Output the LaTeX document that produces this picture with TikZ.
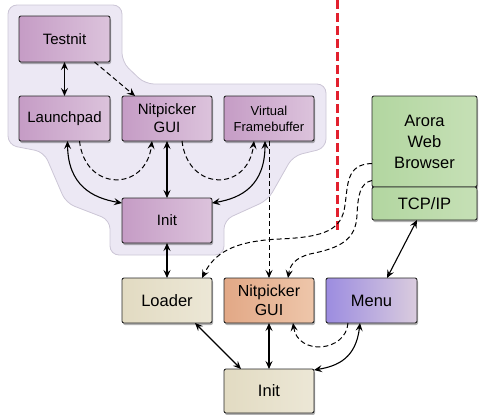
\documentclass[tikz,border=0pt]{standalone}
\usepackage{fontspec}
\setmainfont{Liberation Sans}
\usetikzlibrary{arrows.meta,shadows}
\definecolor{purA}{HTML}{C59CC5}
\definecolor{purB}{HTML}{DCC3DC}
\definecolor{begA}{HTML}{E2DBC2}
\definecolor{begB}{HTML}{ECE7D6}
\definecolor{salA}{HTML}{E2A886}
\definecolor{salB}{HTML}{EEC6AA}
\definecolor{menA}{HTML}{9C8CE0}
\definecolor{menB}{HTML}{DACCDE}
\definecolor{grnA}{HTML}{B2D6A0}
\definecolor{grnB}{HTML}{C6E0B6}
\definecolor{bgfill}{HTML}{ECE8F4}
\definecolor{bgdraw}{HTML}{CCC6D6}
\definecolor{redline}{HTML}{E2202E}
\tikzset{
  box/.style={draw=black!85, line width=0.9pt, rounded corners=2pt,
    minimum width=90pt, minimum height=45pt, inner sep=0pt, outer sep=0pt,
    align=center,
    drop shadow={shadow xshift=1pt, shadow yshift=-2pt, opacity=0.3, fill=black}},
  purbox/.style={box, left color=purA, right color=purB, font=\fontsize{15}{18}\selectfont},
  begbox/.style={box, left color=begA, right color=begB, font=\fontsize{16.5}{19}\selectfont},
  salbox/.style={box, left color=salA, right color=salB, font=\fontsize{16}{19}\selectfont},
  menbox/.style={box, left color=menA, right color=menB, font=\fontsize{16.5}{19}\selectfont},
  grnbox/.style={box, left color=grnA, right color=grnB, minimum width=105pt},
  conn/.style={line width=1.1pt, >={Stealth[length=8pt,width=7pt,inset=3pt]}},
  dconn/.style={conn, line width=1pt, dash pattern=on 5pt off 3pt},
}
\begin{document}
\begin{tikzpicture}[x=1pt,y=-1pt]
\useasboundingbox (0,0) rectangle (480,415);
% background region
\draw[fill=bgfill, draw=bgdraw, line width=0.8pt, rounded corners=9pt]
  (8,5) -- (122,5) -- (122,62) -- (145,84) -- (326,84) -- (326,148)
  -- (293,156) -- (268,200) -- (224,220) -- (224,255) -- (110,255)
  -- (110,220) -- (66,203) -- (44,152) -- (8,145) -- cycle;
% red separator
\draw[redline, line width=3pt, dash pattern=on 9pt off 4pt] (337,0) -- (337,232);

% nodes
\node[purbox, minimum width=91pt, minimum height=46pt] (testnit) at (64.5,39) {Testnit};
\node[purbox, minimum width=91pt] (launch) at (64.5,118.5) {Launchpad};
\node[purbox] (nitT) at (167,118.5) {Nitpicker\\GUI};
\node[purbox, font=\fontsize{13}{16}\selectfont] (vfb) at (269,118.5) {Virtual\\Framebuffer};
\node[purbox] (initT) at (167,220.5) {Init};
\node[begbox] (loader) at (167,300.5) {Loader};
\node[salbox] (nitB) at (269,300.5) {Nitpicker\\GUI};
\node[menbox, minimum width=91pt] (menu) at (371.5,300.5) {Menu};
\node[begbox, minimum height=44pt] (initB) at (269,391) {Init};
\node[grnbox, minimum height=91pt, font=\fontsize{16.5}{21}\selectfont] (arora) at (424.5,141.5) {Arora\\Web\\Browser};
\node[grnbox, minimum height=33pt, font=\fontsize{16.5}{19}\selectfont] (tcp) at (424.5,203.5) {TCP/IP};

% connectors (top group)
\draw[conn,<->] (testnit.south) -- (launch.north);
\draw[dconn,->] ([xshift=30pt]testnit.south) -- ([xshift=-32pt]nitT.north);
\draw[conn,<->] ([xshift=3pt]launch.south) .. controls (68,185) and (92,198) .. ([yshift=-5pt]initT.north west);
\draw[dconn,->] ([xshift=15pt]launch.south) .. controls (85,192) and (146,192) .. ([xshift=-15pt]nitT.south);
\draw[conn,<->] (nitT.south) -- (initT.north);
\draw[dconn,->] ([xshift=15pt]nitT.south) .. controls (188,192) and (248,192) .. ([xshift=-15pt]vfb.south);
\draw[conn,<->] ([xshift=-4pt]vfb.south) .. controls (265,185) and (242,198) .. ([yshift=-5pt]initT.north east);
\draw[dconn,->] (vfb.south) -- (nitB.north);
\draw[conn,<->] (initT.south) -- (loader.north);

% connectors (right / bottom)
\draw[dconn,->] ([yshift=-22pt]arora.west) .. controls (346,164) and (348,185) .. (345,205)
  .. controls (342,230) and (325,237) .. (280,239)
  .. controls (232,241) and (214,254) .. ([xshift=35pt]loader.north);
\draw[dconn,->] ([yshift=-39pt]arora.west) .. controls (360,183) and (358,195) .. (357,215)
  .. controls (356,240) and (340,248) .. (310,254)
  .. controls (295,258) and (290,265) .. ([xshift=19pt]nitB.north);
\draw[conn,<->] ([xshift=-7.5pt]tcp.south) -- ([xshift=15.5pt]menu.north);
\draw[conn,<->] ([xshift=28pt]loader.south) -- ([xshift=-28pt]initB.north);
\draw[conn,<->] (nitB.south) -- (initB.north);
\draw[dconn,->] ([xshift=-23.5pt]menu.south) .. controls (346,352) and (298,356) .. ([xshift=24pt]nitB.south);
\draw[conn,<->] ([xshift=-11.5pt]menu.south) .. controls (356,358) and (338,366) .. ([yshift=-1pt]initB.north east);
\end{tikzpicture}
\end{document}
